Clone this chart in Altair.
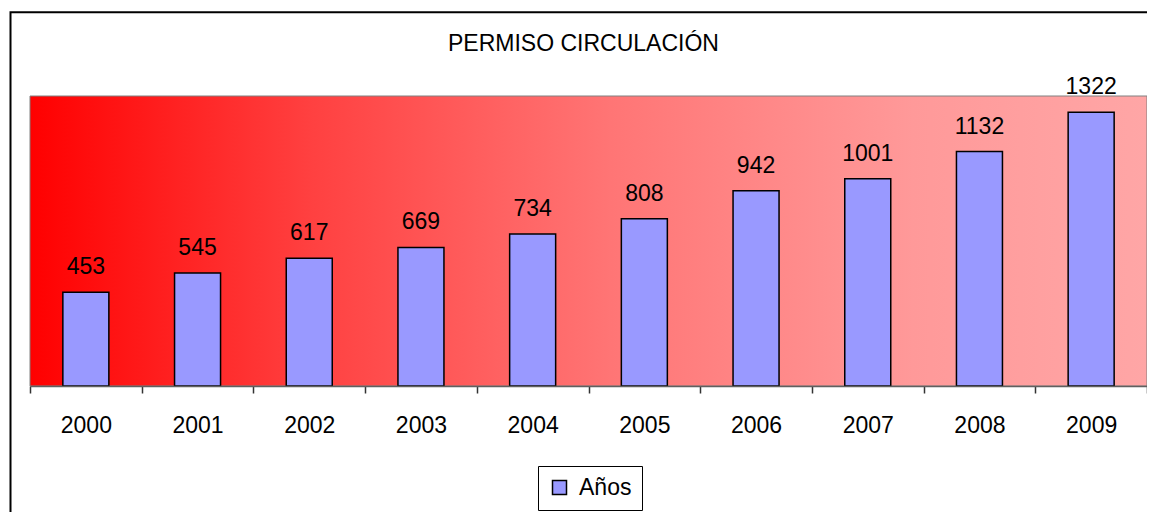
import altair as alt
import pandas as pd

years = ["2000", "2001", "2002", "2003", "2004", "2005", "2006", "2007", "2008", "2009"]
values = [453, 545, 617, 669, 734, 808, 942, 1001, 1132, 1322]
series = ["Años"] * len(years)

df = pd.DataFrame({"year": years, "value": values, "serie": series})

FONT = "Liberation Sans"
W, H = 1117, 290

gradient = alt.LinearGradient(
    gradient="linear",
    stops=[
        alt.GradientStop(color="#FF0000", offset=0),
        alt.GradientStop(color="#FF4040", offset=0.25),
        alt.GradientStop(color="#FF7575", offset=0.52),
        alt.GradientStop(color="#FF9999", offset=0.79),
        alt.GradientStop(color="#FFA6A6", offset=1),
    ],
    x1=0, x2=1, y1=0, y2=0,
)

x_enc = alt.X(
    "year:N",
    sort=years,
    scale=alt.Scale(paddingInner=0, paddingOuter=0),
    axis=alt.Axis(
        title=None,
        labelAngle=0,
        tickBand="extent",
        tickSize=7,
        tickColor="#333333",
        tickWidth=1.5,
        domainColor="#606060",
        domainWidth=1.5,
        labelFont=FONT,
        labelFontSize=23,
        labelColor="black",
        labelBaseline="alphabetic",
        labelPadding=39,
        zindex=1,
    ),
)
y_enc = alt.Y("value:Q", scale=alt.Scale(domain=[0, 1400]), axis=None)

bg = alt.Chart(alt.Data(values=[{}])).mark_rect(
    fill=gradient, stroke="#808080", strokeWidth=1
).encode(x=alt.value(0), x2=alt.value(W), y=alt.value(0), y2=alt.value(H))

bars = alt.Chart(df).mark_bar(width=46, stroke="black", strokeWidth=1.5).encode(
    x=x_enc,
    y=y_enc,
    color=alt.Color(
        "serie:N",
        scale=alt.Scale(range=["#9999FF"]),
        legend=alt.Legend(
            title=None,
            orient="none",
            legendX=508,
            legendY=370,
            symbolType="square",
            symbolSize=196,
            symbolStrokeColor="black",
            symbolStrokeWidth=1.5,
            labelFont=FONT,
            labelFontSize=23,
            labelColor="black",
            labelOffset=8,
            padding=10,
            fillColor="white",
            strokeColor="black",
        ),
    ),
)

labels = alt.Chart(df).mark_text(
    font=FONT, fontSize=23, color="black", baseline="alphabetic", dy=-18
).encode(x=x_enc, y=y_enc, text="value:Q")

border = alt.Chart(alt.Data(values=[{}])).mark_rect(
    fillOpacity=0, stroke="black", strokeWidth=2
).encode(x=alt.value(-19.5), x2=alt.value(1140), y=alt.value(-83.7), y2=alt.value(440))

chart = alt.layer(bg, bars, labels, border).properties(
    width=W,
    height=H,
    title=alt.Title(
        "PERMISO CIRCULACIÓN",
        font=FONT,
        fontSize=23,
        fontWeight="normal",
        color="black",
        anchor="middle",
        dx=-5,
        dy=63,
        baseline="alphabetic",
        offset=0,
    ),
    autosize=alt.AutoSizeParams(type="none"),
    padding={"left": 22, "top": 88, "right": 0, "bottom": 126},
).configure_view(stroke=None).configure_legend(strokeWidth=1.5).configure(background="white")

chart.save("out.html", embed_options={"renderer": "svg", "actions": False})
